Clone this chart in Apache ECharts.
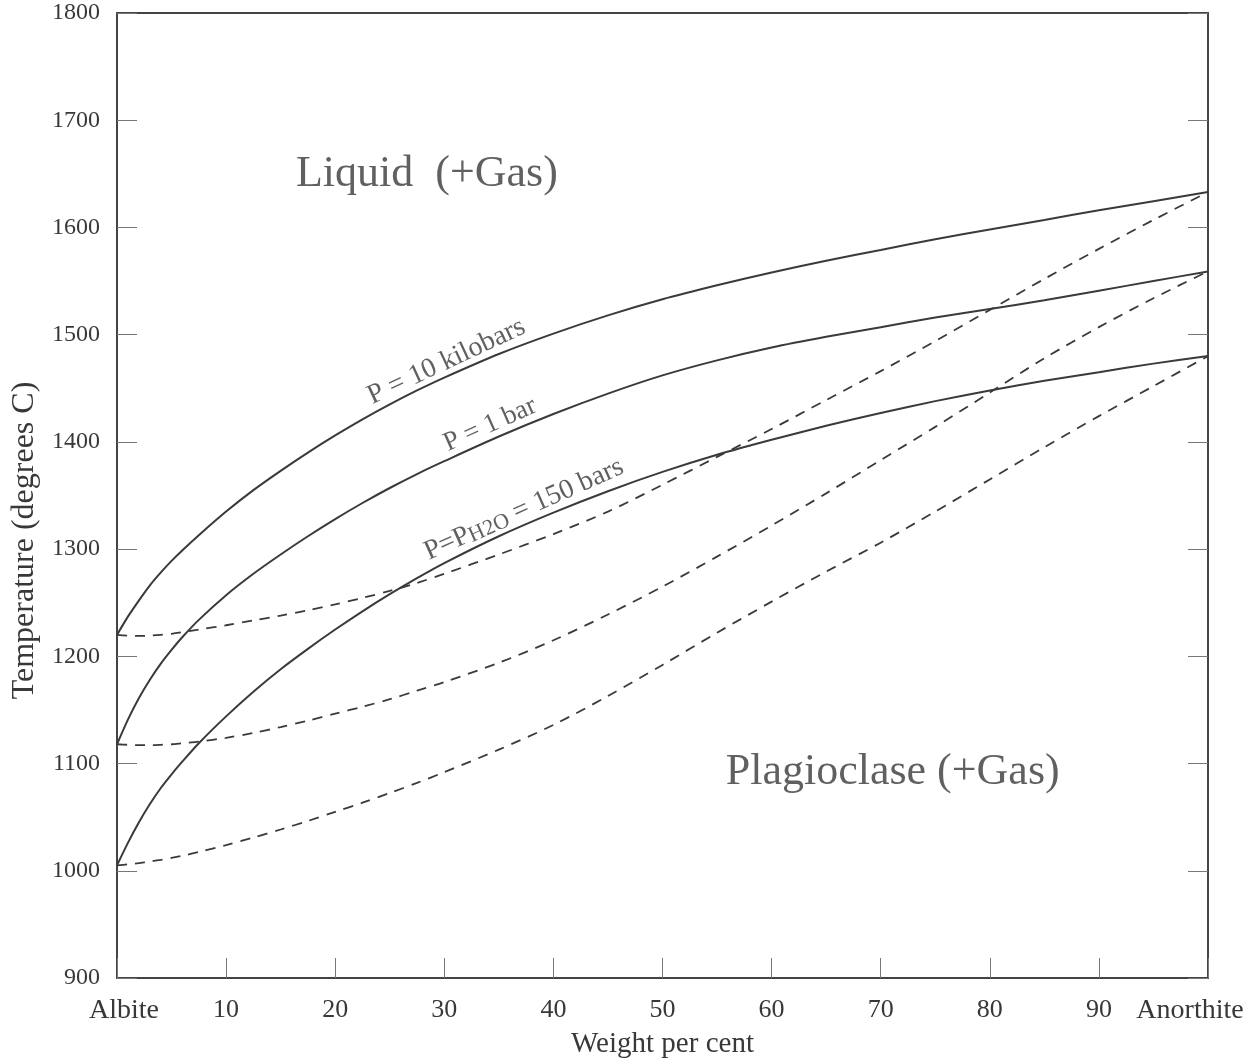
<!DOCTYPE html>
<html>
<head>
<meta charset="utf-8">
<script src="https://cdn.jsdelivr.net/npm/echarts@6/dist/echarts.min.js"></script>
<style>
html,body{margin:0;padding:0;background:#fff;}
#chart{width:1257px;height:1060px;}
</style>
</head>
<body>
<div id="chart"></div>
<script>
// Composition (weight per cent anorthite)
const xPts = [0, 1, 2, 3, 4, 5, 6, 7.5, 10, 12.5, 15, 17.5, 20, 22.5, 25, 27.5, 30, 35, 40, 45, 50, 55, 60, 65, 70, 75, 80, 85, 90, 95, 100];

// Liquidus curves (solid)
const liquidus10kbar = [1220, 1237, 1252, 1266, 1278, 1289, 1299, 1313, 1335, 1355, 1373, 1390, 1406, 1421, 1435, 1448, 1460, 1482, 1501, 1518, 1533, 1546, 1558, 1569, 1579, 1589, 1598, 1607, 1616, 1624.5, 1633];
const liquidus1bar = [1118, 1141, 1161, 1178, 1193, 1206, 1218, 1234, 1257, 1277, 1295, 1312, 1328, 1343, 1357, 1370, 1382, 1405, 1426, 1445, 1462, 1476, 1488, 1498, 1507, 1516, 1524, 1532, 1541, 1550, 1559];
const liquidus150bars = [1005, 1026, 1045, 1062, 1077, 1090, 1102, 1119, 1144, 1167, 1188, 1207, 1225, 1242, 1258, 1273, 1287, 1312, 1334, 1354, 1372, 1388, 1402, 1415, 1427, 1438, 1448, 1457, 1465, 1473, 1480];

// Solidus curves (dashed)
const solidus10kbar = [1220, 1219.3, 1219, 1219.3, 1220, 1221, 1222.5, 1225, 1229, 1233.5, 1238, 1243, 1248.5, 1254.5, 1261, 1268.5, 1277, 1295, 1314, 1335, 1360, 1386, 1412, 1439, 1466, 1494, 1523, 1552, 1580, 1607, 1633];
const solidus1bar = [1118, 1117.5, 1117.2, 1117.2, 1117.5, 1118, 1119, 1120.5, 1124, 1128.5, 1134, 1140, 1146.5, 1153, 1160, 1168, 1176, 1194, 1215, 1239, 1265, 1293, 1322, 1352, 1383, 1414, 1446, 1478, 1507, 1534, 1559];
const solidus150bars = [1005, 1006, 1007.2, 1008.6, 1010.2, 1012, 1014, 1017.5, 1024, 1031, 1038.5, 1046.5, 1055, 1063.5, 1072.5, 1082, 1092, 1113, 1136, 1163, 1192, 1222, 1251, 1279, 1306, 1335, 1365, 1395, 1424, 1452, 1480];

// Tick labels
const xTickLabels = ['Albite', '10', '20', '30', '40', '50', '60', '70', '80', '90', 'Anorthite'];
const yTickLabels = ['900', '1000', '1100', '1200', '1300', '1400', '1500', '1600', '1700', '1800'];

// Text annotations (anchored in data coordinates)
const annoText = ['Liquid  (+Gas)', 'Plagioclase (+Gas)', 'P = 10 kilobars', 'P = 1 bar', '{n|P=P}{s|H2O}{n| = 150 bars}'];
const annoX = [28.4, 71.1, 30.2, 34.2, 37.3];
const annoY = [1649, 1091.5, 1475, 1416, 1337];

const FONT = '"Liberation Serif", "Times New Roman", serif';
const LINE = '#3a3a3a';
const TEXT = '#383838';

function pairs(ys) { return xPts.map((x, i) => [x, ys[i]]); }

const annoStyle = [
  {fontSize: 44, rotate: 0},
  {fontSize: 44, rotate: 0},
  {fontSize: 28, rotate: 25},
  {fontSize: 27, rotate: 24},
  {fontSize: 28, rotate: 24}
];

const chart = echarts.init(document.getElementById('chart'), null, {renderer: 'canvas'});

function curve(name, ys, dashed) {
  return {
    name: name,
    type: 'line',
    data: pairs(ys),
    smooth: 0.3,
    showSymbol: false,
    symbol: 'none',
    xAxisIndex: 0,
    yAxisIndex: 0,
    lineStyle: dashed ? {color: LINE, width: 1.8, type: [10, 8]} : {color: LINE, width: 2},
    z: 3
  };
}

const option = {
  animation: false,
  backgroundColor: '#ffffff',
  grid: {left: 117, right: 49, top: 13, bottom: 82, containLabel: false, outerBoundsMode: 'none'},
  xAxis: [
    {
      type: 'value', position: 'bottom', min: 0, max: 100, interval: 10,
      name: 'Weight per cent', nameLocation: 'middle', nameGap: 49,
      nameTextStyle: {fontFamily: FONT, fontSize: 29, color: TEXT},
      axisLine: {show: true, onZero: false, lineStyle: {color: '#444', width: 2}},
      axisTick: {show: true, inside: true, length: 20, lineStyle: {color: '#777', width: 1}},
      splitLine: {show: false},
      axisLabel: {
        show: true, margin: 19, showMinLabel: true, showMaxLabel: true,
        fontFamily: FONT, fontSize: 26, color: TEXT,
        formatter: function (v) {
          const i = Math.round(v / 10);
          if (i === 0) return '{a|' + xTickLabels[0] + '}';
          if (i === 10) return '{b|' + xTickLabels[10] + '}';
          return xTickLabels[i];
        },
        rich: {
          a: {fontFamily: FONT, fontSize: 28, color: TEXT, padding: [0, 0, 0, 14]},
          b: {fontFamily: FONT, fontSize: 28, color: TEXT, padding: [0, 36, 0, 0]}
        }
      }
    },
    {
      type: 'value', position: 'top', min: 0, max: 100, interval: 10,
      axisLine: {show: true, onZero: false, lineStyle: {color: '#444', width: 2}},
      axisTick: {show: false}, axisLabel: {show: false}, splitLine: {show: false}
    }
  ],
  yAxis: [
    {
      type: 'value', position: 'left', min: 900, max: 1800, interval: 100,
      name: 'Temperature (degrees C)', nameLocation: 'middle', nameGap: 76, nameRotate: 90,
      nameTextStyle: {fontFamily: FONT, fontSize: 32, color: TEXT, padding: [0, 90, 0, 0]},
      axisLine: {show: true, onZero: false, lineStyle: {color: '#444', width: 2}},
      axisTick: {show: true, inside: true, length: 20, lineStyle: {color: '#777', width: 1}},
      splitLine: {show: false},
      axisLabel: {
        show: true, margin: 17, fontFamily: FONT, fontSize: 24, color: TEXT,
        formatter: function (v) { return yTickLabels[Math.round((v - 900) / 100)]; }
      }
    },
    {
      type: 'value', position: 'right', min: 900, max: 1800, interval: 100,
      axisLine: {show: true, onZero: false, lineStyle: {color: '#444', width: 2}},
      axisTick: {show: true, inside: true, length: 20, lineStyle: {color: '#777', width: 1}},
      axisLabel: {show: false}, splitLine: {show: false}
    }
  ],
  series: [
    curve('Liquidus P = 10 kilobars', liquidus10kbar, false),
    curve('Liquidus P = 1 bar', liquidus1bar, false),
    curve('Liquidus P = PH2O = 150 bars', liquidus150bars, false),
    curve('Solidus P = 10 kilobars', solidus10kbar, true),
    curve('Solidus P = 1 bar', solidus1bar, true),
    curve('Solidus P = PH2O = 150 bars', solidus150bars, true),
    {
      name: 'labels',
      type: 'scatter',
      xAxisIndex: 0, yAxisIndex: 0,
      symbolSize: 0,
      silent: true,
      z: 5,
      data: annoText.map((t, i) => ({
        value: [annoX[i], annoY[i]],
        label: {
          show: true, position: 'inside', formatter: t,
          rotate: annoStyle[i].rotate,
          fontFamily: FONT, fontSize: annoStyle[i].fontSize, color: TEXT,
          rich: {
            n: {fontFamily: FONT, fontSize: annoStyle[i].fontSize, color: TEXT},
            s: {fontFamily: FONT, fontSize: Math.round(annoStyle[i].fontSize * 0.78), color: TEXT, verticalAlign: 'bottom'}
          }
        }
      }))
    }
  ]
};

chart.setOption(option);
</script>
</body>
</html>
